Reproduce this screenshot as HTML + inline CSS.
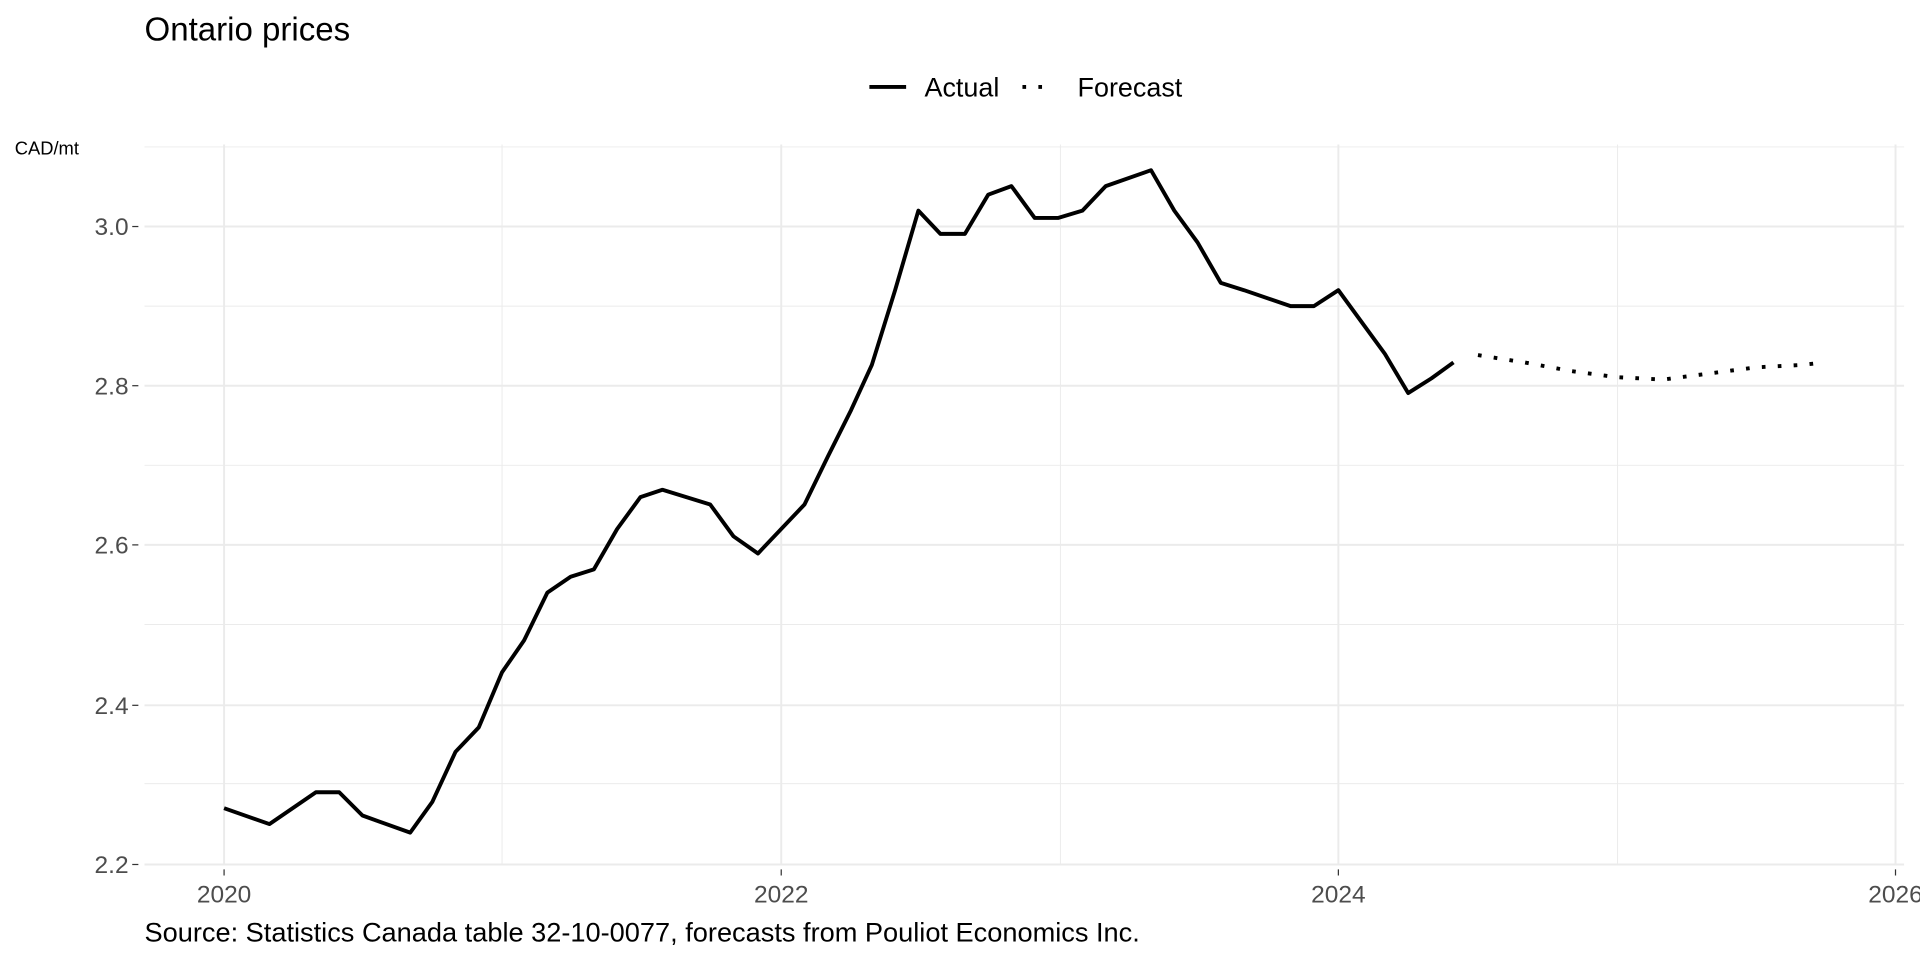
<!DOCTYPE html>
<html><head><style>html,body{margin:0;padding:0;background:#fff;overflow:hidden}</style></head>
<body>
<svg width="1920" height="960" viewBox="0 0 1568 784" xmlns="http://www.w3.org/2000/svg" font-family="Liberation Sans, sans-serif">
<rect width="1568" height="784" fill="#fff"/>
<g stroke="#ebebeb" stroke-width="0.8">
<line x1="118" x2="1555" y1="640" y2="640"/><line x1="118" x2="1555" y1="510" y2="510"/><line x1="118" x2="1555" y1="380" y2="380"/><line x1="118" x2="1555" y1="250" y2="250"/><line x1="118" x2="1555" y1="120" y2="120"/>
<line x1="410" x2="410" y1="118" y2="706"/><line x1="866" x2="866" y1="118" y2="706"/><line x1="1321" x2="1321" y1="118" y2="706"/>
</g>
<g stroke="#ebebeb" stroke-width="1.6">
<line x1="118" x2="1555" y1="706" y2="706"/><line x1="118" x2="1555" y1="576" y2="576"/><line x1="118" x2="1555" y1="445" y2="445"/><line x1="118" x2="1555" y1="315" y2="315"/><line x1="118" x2="1555" y1="185" y2="185"/>
<line x1="183" x2="183" y1="118" y2="706"/><line x1="638" x2="638" y1="118" y2="706"/><line x1="1093" x2="1093" y1="118" y2="706"/><line x1="1548" x2="1548" y1="118" y2="706"/>
</g>
<g stroke="#333" stroke-width="1">
<line x1="108" x2="113" y1="706" y2="706"/><line x1="108" x2="113" y1="576" y2="576"/><line x1="108" x2="113" y1="445" y2="445"/><line x1="108" x2="113" y1="315" y2="315"/><line x1="108" x2="113" y1="185" y2="185"/>
<line x1="183" x2="183" y1="710" y2="715"/><line x1="638" x2="638" y1="710" y2="715"/><line x1="1093" x2="1093" y1="710" y2="715"/><line x1="1548" x2="1548" y1="710" y2="715"/>
</g>
<g fill="#4d4d4d" font-size="20" text-anchor="end">
<text x="105" y="713">2.2</text><text x="105" y="583">2.4</text><text x="105" y="452">2.6</text><text x="105" y="322">2.8</text><text x="105" y="192">3.0</text>
</g>
<g fill="#4d4d4d" font-size="20" text-anchor="middle">
<text x="183" y="737">2020</text><text x="638" y="737">2022</text><text x="1093" y="737">2024</text><text x="1548" y="737">2026</text>
</g>
<polyline fill="none" stroke="#000" stroke-width="3.2" stroke-linejoin="round" points="183,660 220,673 258,647 277,647 296,666 335,680 353,655 372,614 391,594 410,549 428,523 447,484 466,471 485,465 504,432 523,406 541,400 580,412 599,438 619,452 657,412 676,373 695,335 712,298 731,237 750,172 768,191 788,191 807,159 826,152 845,178 864,178 884,172 903,152 940,139 959,172 978,198 997,231 1016,237 1054,250 1073,250 1093,237 1112,263 1131,289 1150,321 1169,309 1187,296"/>
<polyline fill="none" stroke="#000" stroke-width="3.2" stroke-dasharray="3 10" points="1207,290 1245,296 1283,303 1320,308 1358,310 1396,305 1434,300 1472,298 1490,296"/>
<text x="118" y="33" font-size="27" fill="#000">Ontario prices</text>
<line x1="710" x2="740" y1="71" y2="71" stroke="#000" stroke-width="3.2"/>
<text x="755" y="79" font-size="22" fill="#000">Actual</text>
<line x1="835" x2="860" y1="71" y2="71" stroke="#000" stroke-width="3.2" stroke-dasharray="3 10"/>
<text x="880" y="79" font-size="22" fill="#000">Forecast</text>
<text x="12" y="126" font-size="15" fill="#000">CAD/mt</text>
<text x="118" y="769" font-size="22.2" fill="#000">Source: Statistics Canada table 32-10-0077, forecasts from Pouliot Economics Inc.</text>
</svg>
</body></html>
